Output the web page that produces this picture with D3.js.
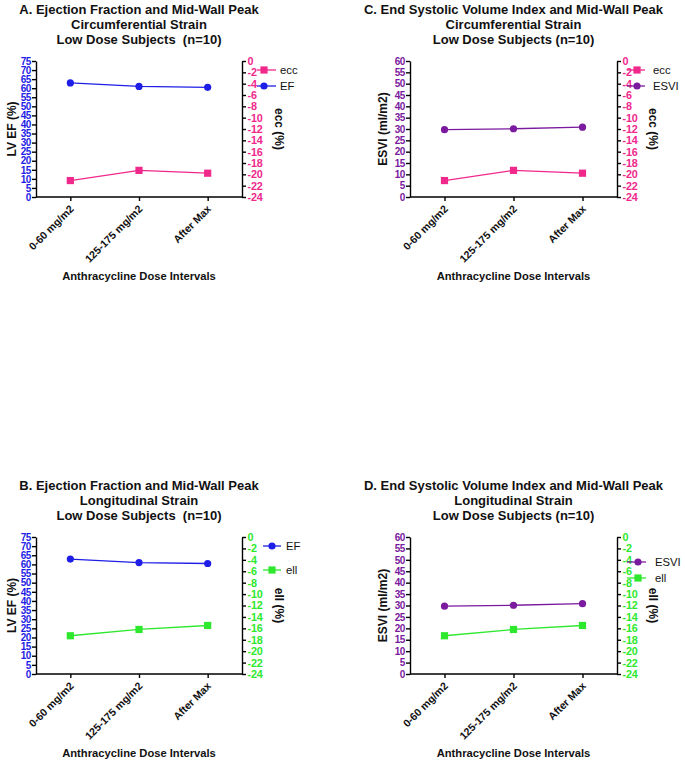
<!DOCTYPE html>
<html><head><meta charset="utf-8">
<script src="https://cdn.jsdelivr.net/npm/d3@7"></script>
<style>
body{margin:0;background:#fff;}
svg text{font-family:"Liberation Sans",Arial,sans-serif;}
</style></head>
<body>
<svg id="chart" width="685" height="762"></svg>
<script>
const categories = ["0-60 mg/m2", "125-175 mg/m2", "After Max"];
const efValues = [62.9, 61.0, 60.5];
const esviValues = [29.7, 30.1, 30.8];
const eccValues = [-21.1, -19.3, -19.8];
const ellValues = [-17.3, -16.2, -15.5];
const efTicks = [0,5,10,15,20,25,30,35,40,45,50,55,60,65,70,75];
const esviTicks = [0,5,10,15,20,25,30,35,40,45,50,55,60];
const strainTicks = [0,-2,-4,-6,-8,-10,-12,-14,-16,-18,-20,-22,-24];

const BLUE = "#1e1ee6", PINK = "#f0288c", PURPLE = "#7a1a9e", GREEN = "#2ee82e";

const panels = [
  {x0:36, x1:242, top:61, bottom:197, titleY:14,
   title:["A. Ejection Fraction and Mid-Wall Peak","Circumferential Strain","Low Dose Subjects  (n=10)"],
   left:{vals:efValues, ticks:efTicks, max:75, color:BLUE, label:"LV EF (%)", name:"EF", marker:"circle"},
   right:{vals:eccValues, color:PINK, label:"ecc (%)", name:"ecc", marker:"square"},
   legend:[{s:"right", y:70},{s:"left", y:86}], legX0:257, legX1:276, legM:264, legT:280, titleX:12, rtitleX:279},
  {x0:410, x1:617, top:61, bottom:197, titleY:14,
   title:["C. End Systolic Volume Index and Mid-Wall Peak","Circumferential Strain","Low Dose Subjects (n=10)"],
   left:{vals:esviValues, ticks:esviTicks, max:60, color:PURPLE, label:"ESVI (ml/m2)", name:"ESVI", marker:"circle"},
   right:{vals:eccValues, color:PINK, label:"ecc (%)", name:"ecc", marker:"square"},
   legend:[{s:"right", y:70},{s:"left", y:86}], legX0:627, legX1:645, legM:637, legT:653, titleX:383, rtitleX:653},
  {x0:36, x1:242, top:537, bottom:674, titleY:490,
   title:["B. Ejection Fraction and Mid-Wall Peak","Longitudinal Strain","Low Dose Subjects  (n=10)"],
   left:{vals:efValues, ticks:efTicks, max:75, color:BLUE, label:"LV EF (%)", name:"EF", marker:"circle"},
   right:{vals:ellValues, color:GREEN, label:"ell (%)", name:"ell", marker:"square"},
   legend:[{s:"left", y:546},{s:"right", y:570}], legX0:263, legX1:281, legM:272, legT:286, titleX:12, rtitleX:279},
  {x0:410, x1:617, top:537, bottom:674, titleY:490,
   title:["D. End Systolic Volume Index and Mid-Wall Peak","Longitudinal Strain","Low Dose Subjects (n=10)"],
   left:{vals:esviValues, ticks:esviTicks, max:60, color:PURPLE, label:"ESVI (ml/m2)", name:"ESVI", marker:"circle"},
   right:{vals:ellValues, color:GREEN, label:"ell (%)", name:"ell", marker:"square"},
   legend:[{s:"left", y:562},{s:"right", y:578}], legX0:627, legX1:646, legM:638, legT:655, titleX:383, rtitleX:653}
];

const svg = d3.select("#chart");

function marker(g, type, x, y, color){
  if(type==="circle") g.append("circle").attr("cx",x).attr("cy",y).attr("r",3.6).attr("fill",color);
  else g.append("rect").attr("x",x-3.6).attr("y",y-3.6).attr("width",7.2).attr("height",7.2).attr("fill",color);
}

panels.forEach(p => {
  const g = svg.append("g");
  const x = d3.scalePoint().domain(categories).range([p.x0, p.x1]).padding(0.5);
  const yL = d3.scaleLinear().domain([0, p.left.max]).range([p.bottom, p.top]);
  const yR = d3.scaleLinear().domain([-24, 0]).range([p.bottom, p.top]);
  const cx = (p.x0 + p.x1)/2;

  // title
  p.title.forEach((t,i) => g.append("text").attr("x",cx).attr("y",p.titleY + i*15)
    .attr("text-anchor","middle").style("font-size","13px").style("font-weight","bold")
    .style("white-space","pre").attr("fill","#111").text(t));

  // left axis
  const la = g.append("g").attr("transform",`translate(${p.x0},0)`)
    .call(d3.axisLeft(yL).tickValues(p.left.ticks).tickFormat(d=>String(d)).tickSize(4).tickPadding(1).tickSizeOuter(0));
  la.selectAll("path, line").attr("stroke","#000").attr("stroke-width",1.4);
  la.selectAll("text").attr("fill",p.left.color).style("font-size","10px").style("font-weight","bold").style("letter-spacing","-0.4px");

  // right axis
  const ra = g.append("g").attr("transform",`translate(${p.x1},0)`)
    .call(d3.axisRight(yR).tickValues(strainTicks).tickFormat(d=>String(d)).tickSize(4).tickPadding(1.5).tickSizeOuter(0));
  ra.selectAll("path, line").attr("stroke","#000").attr("stroke-width",1.4);
  ra.selectAll("text").attr("fill",p.right.color).style("font-size","10.8px").style("font-weight","bold").style("letter-spacing","-0.2px");

  // x axis
  const xa = g.append("g").attr("transform",`translate(0,${p.bottom})`)
    .call(d3.axisBottom(x).tickSize(4).tickSizeOuter(0));
  xa.select("path").attr("d",`M${p.x0},0H${p.x1}`);
  xa.selectAll("path, line").attr("stroke","#000").attr("stroke-width",1.4);
  xa.selectAll("text").attr("fill","#111").style("font-size","10.6px").style("font-weight","bold")
    .attr("text-anchor","end").attr("x",0).attr("y",0).attr("dy","0.35em").attr("transform","translate(1,10) rotate(-45)");

  // axis titles
  g.append("text").attr("transform",`translate(${p.titleX},${(p.top+p.bottom)/2}) rotate(-90)`)
    .attr("text-anchor","middle").attr("dy","0.35em").style("font-size","12px").style("font-weight","bold").attr("fill","#111").text(p.left.label);
  g.append("text").attr("transform",`translate(${p.rtitleX},${(p.top+p.bottom)/2}) rotate(90)`)
    .attr("text-anchor","middle").attr("dy","0.35em").style("font-size","12px").style("font-weight","bold").attr("fill","#111").text(p.right.label);
  g.append("text").attr("x",cx).attr("y",p.bottom+83).attr("text-anchor","middle")
    .style("font-size","11.2px").style("font-weight","bold").attr("fill","#111").text("Anthracycline Dose Intervals");

  // series
  [[p.left, yL],[p.right, yR]].forEach(([s, y]) => {
    const line = d3.line().x((d,i)=>x(categories[i])).y(d=>y(d));
    g.append("path").attr("d",line(s.vals)).attr("fill","none").attr("stroke",s.color).attr("stroke-width",1.3);
    s.vals.forEach((v,i) => marker(g, s.marker, x(categories[i]), y(v), s.color));
  });

  // legend
  p.legend.forEach(l => {
    const s = p[l.s];
    g.append("line").attr("x1",p.legX0).attr("x2",p.legX1).attr("y1",l.y).attr("y2",l.y).attr("stroke",s.color).attr("stroke-width",1.3);
    marker(g, s.marker, p.legM, l.y, s.color);
    g.append("text").attr("x",p.legT).attr("y",l.y).attr("dy","0.35em").style("font-size","11.3px")
      .style("font-weight","normal").attr("fill","#111").text(s.name);
  });
});
</script>
</body></html>
